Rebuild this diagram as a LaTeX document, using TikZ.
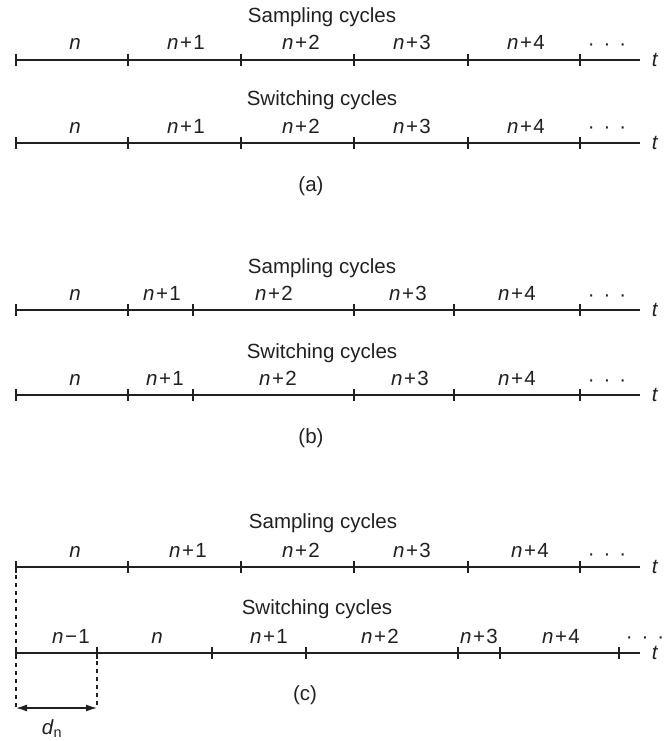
\documentclass[tikz,border=0pt]{standalone}
\usepackage{fontspec}
\setmainfont{Liberation Sans}
\usetikzlibrary{arrows.meta}
\definecolor{ink}{RGB}{35,31,32}
\tikzset{
  tlinestyle/.style={draw=ink, line width=1.2pt},
  tickmark/.style={draw=ink, line width=1.2pt},
  lab/.style={text=ink, inner sep=0pt, font=\fontsize{20.5}{24}\selectfont},
  dashline/.style={draw=ink, line width=1.1pt, dash pattern=on 4pt off 4pt},
  dimarrow/.style={draw=ink, line width=1.3pt, {Latex[length=11pt,width=7pt]}-{Latex[length=11pt,width=7pt]}}
}
\newcommand{\tline}[3]{% name, y, tick x list
  \coordinate (#1-s) at (16,#2);
  \coordinate (#1-e) at (640,#2);
  \draw[tlinestyle] (#1-s) -- (#1-e);
  \node[lab] (#1-t) at (655,#2) {\textit{t}};
  \foreach \xx [count=\ii] in {#3} {
    \coordinate (#1-k\ii) at (\xx,#2);
    \draw[tickmark] ([yshift=6pt]#1-k\ii) -- ([yshift=-6pt]#1-k\ii);
  }
}
\newcommand{\tlabels}[3]{% name, baseline y, list x/label
  \foreach \xx/\lbl [count=\ii] in {#3} {
    \node[lab, anchor=base] (#1-l\ii) at (\xx,#2) {\lbl};
  }
}
\newcommand{\mydots}{·\hspace{9pt}·\hspace{9pt}·}
\newcommand{\np}[1]{\textit{n}\hspace{1.5pt}+\hspace{1.5pt}#1}
\newcommand{\nm}[1]{\textit{n}\hspace{1.5pt}−\hspace{1.5pt}#1}
\begin{document}
\begin{tikzpicture}[x=1pt,y=-1pt]
\useasboundingbox (0,0) rectangle (668,741);

% ---------------- (a)
\node[lab, anchor=base] (a1-title) at (322,23) {Sampling cycles};
\tline{a1}{60}{16,128,241,354,468,580}
\tlabels{a1}{50}{75/\textit{n}, 186/\np{1}, 301/\np{2}, 412/\np{3}, 526/\np{4}}
\node[lab, anchor=base] (a1-dots) at (607,51) {\mydots};

\node[lab, anchor=base] (a2-title) at (322,106) {Switching cycles};
\tline{a2}{143}{16,128,241,354,468,580}
\tlabels{a2}{133}{75/\textit{n}, 186/\np{1}, 301/\np{2}, 412/\np{3}, 526/\np{4}}
\node[lab, anchor=base] (a2-dots) at (607,134) {\mydots};

\node[lab, anchor=base] (lab-a) at (311,191) {(a)};

% ---------------- (b)
\node[lab, anchor=base] (b1-title) at (322,273) {Sampling cycles};
\tline{b1}{310}{16,128,193,354,454,580}
\tlabels{b1}{300}{75/\textit{n}, 162/\np{1}, 274/\np{2}, 408/\np{3}, 517/\np{4}}
\node[lab, anchor=base] (b1-dots) at (607,301) {\mydots};

\node[lab, anchor=base] (b2-title) at (322,358) {Switching cycles};
\tline{b2}{395}{16,128,193,354,454,580}
\tlabels{b2}{385}{75/\textit{n}, 165/\np{1}, 278/\np{2}, 410/\np{3}, 517/\np{4}}
\node[lab, anchor=base] (b2-dots) at (607,386) {\mydots};

\node[lab, anchor=base] (lab-b) at (311,443) {(b)};

% ---------------- (c)
\node[lab, anchor=base] (c1-title) at (323,528) {Sampling cycles};
\tline{c1}{567}{16,128,241,354,468,580}
\tlabels{c1}{557}{75/\textit{n}, 188/\np{1}, 301/\np{2}, 412/\np{3}, 530/\np{4}}
\node[lab, anchor=base] (c1-dots) at (607,560) {\mydots};

\node[lab, anchor=base] (c2-title) at (317,614) {Switching cycles};
\tline{c2}{653}{16,97,212,306,458,500,619}
\tlabels{c2}{643}{71/\nm{1}, 157/\textit{n}, 269/\np{1}, 380/\np{2}, 479/\np{3}, 561/\np{4}}
\node[lab, anchor=base] (c2-dots) at (645,643) {\mydots};

\node[lab, anchor=base] (lab-c) at (305,700) {(c)};

\coordinate (dL) at (16,708);
\coordinate (dR) at (97,708);
\draw[dashline] (c1-k1) -- (dL);
\draw[dashline] (c2-k2) -- (dR);
\draw[dimarrow] (dL) -- (dR);
\node[lab, anchor=base] (dn) at (52,734) {\textit{d}\textsubscript{n}};
\end{tikzpicture}
\end{document}
